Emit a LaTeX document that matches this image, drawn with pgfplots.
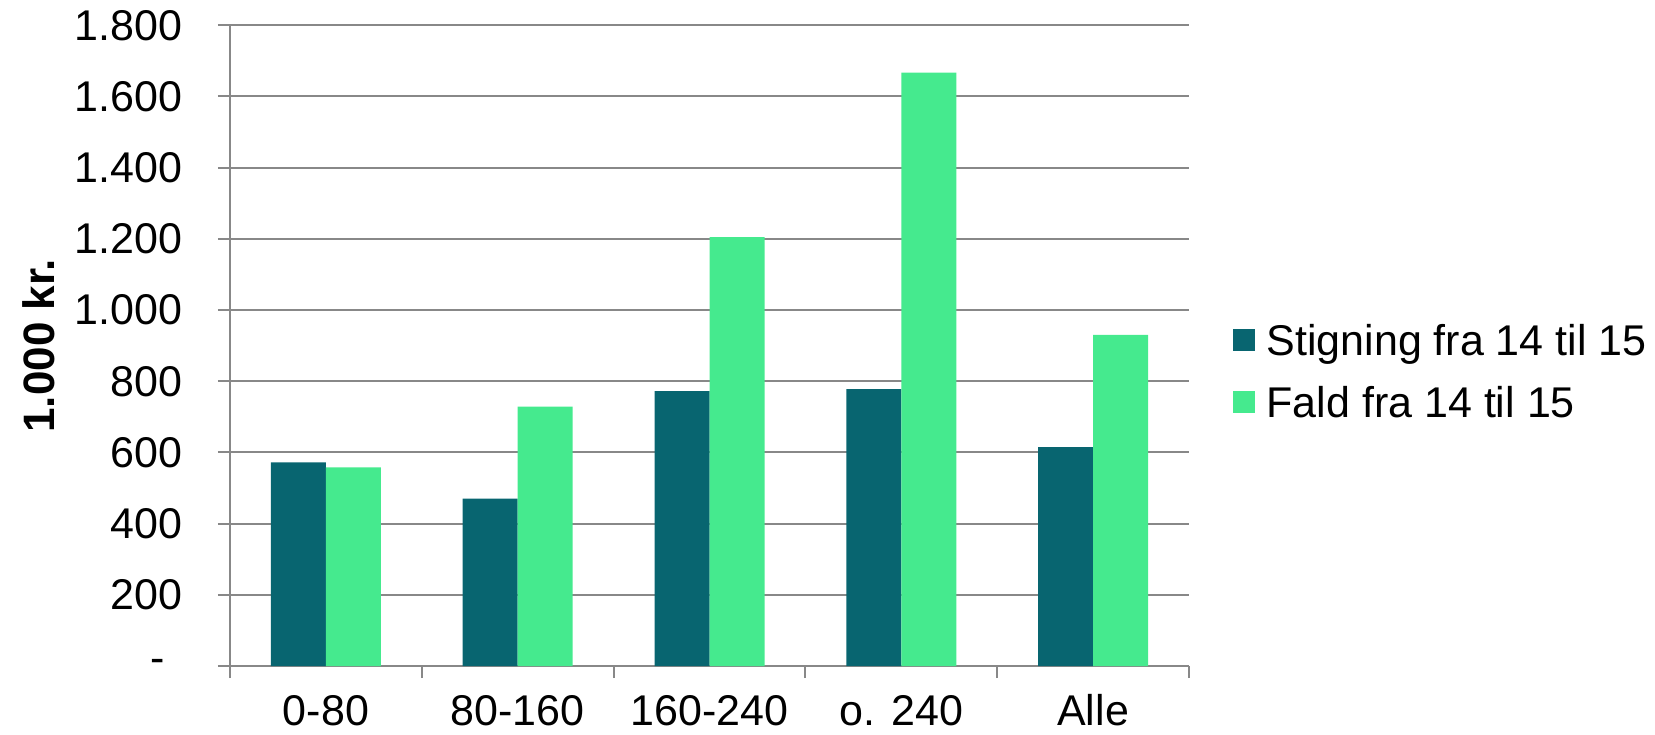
\documentclass[border=0pt]{standalone}
\usepackage{pgfplots}
\pgfplotsset{compat=1.18}
\usepackage{fontspec}
\setmainfont{Liberation Sans}
\definecolor{darkteal}{RGB}{8,101,112}
\definecolor{lightgreen}{RGB}{69,234,142}
\definecolor{gridgray}{RGB}{136,136,136}
\begin{document}
\begin{tikzpicture}
\useasboundingbox (-115pt,-34pt) rectangle (712.5pt,333pt);
\begin{axis}[
  at={(0,0)}, anchor=south west,
  width=479.5pt, height=320.35pt, scale only axis,
  ymin=0, ymax=1800, xmin=-0.5, xmax=4.5,
  ytick={0,200,...,1800},
  yticklabels={-\rule{9pt}{0pt},200,400,600,800,1.000,1.200,1.400,1.600,1.800},
  xtick={-0.5,0.5,1.5,2.5,3.5,4.5},
  x tick label as interval,
  xticklabels={0-80,80-160,160-240,o. 240,Alle},
  ymajorgrids,
  major grid style={gridgray, line width=1pt},
  axis x line*=bottom, axis y line*=left,
  axis line style={gridgray, line width=1pt},
  tick style={gridgray, line width=1pt},
  tick align=outside, major tick length=6pt,
  ybar=0pt, bar width=27.5pt,
  tick label style={font=\fontsize{21.5}{25}\selectfont},
  yticklabel style={xshift=-14.25pt},
  xticklabel style={yshift=-4.5pt, text height=15.7pt, text depth=0pt},
  ylabel={1.000 kr.},
  ylabel style={at={(axis description cs:-0.1992,0.5)}, anchor=center, font=\fontsize{22}{26}\selectfont\bfseries},
  legend style={draw=none, at={(axis description cs:1.045,0.454)}, anchor=west,
    inner sep=0pt, row sep=11pt, column sep=6pt,
    nodes={inner sep=0pt, text height=15.5pt, text depth=4.5pt},
    font=\fontsize{21.5}{25}\selectfont},
  legend cell align=left,
]
\addplot[fill=darkteal, draw=none,
  legend image code/.code={\fill[darkteal] (0pt,-3.5pt) rectangle (11pt,7.5pt);}]
  coordinates {(0,572) (1,470) (2,772) (3,778) (4,615)};
\addplot[fill=lightgreen, draw=none,
  legend image code/.code={\fill[lightgreen] (0pt,-3.5pt) rectangle (11pt,7.5pt);}]
  coordinates {(0,558) (1,729) (2,1205) (3,1667) (4,930)};
\legend{Stigning fra 14 til 15, Fald fra 14 til 15}
\end{axis}
\end{tikzpicture}
\end{document}
